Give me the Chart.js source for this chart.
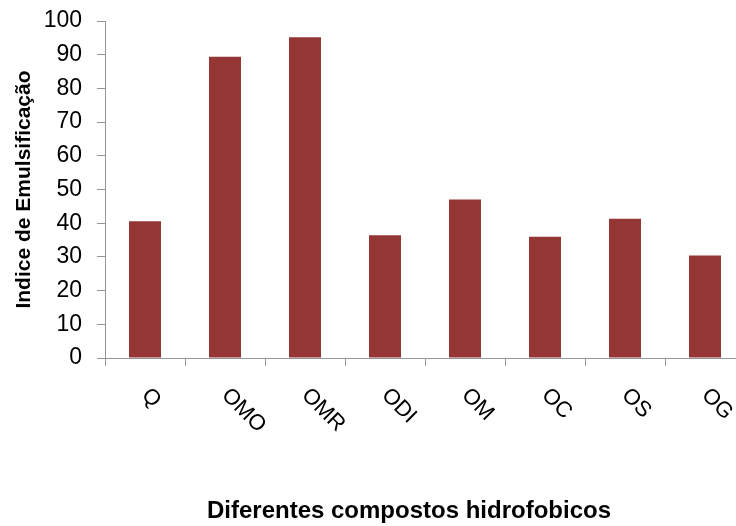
<!DOCTYPE html>
<html>
<head>
<meta charset="utf-8">
<script src="https://cdn.jsdelivr.net/npm/chart.js@4"></script>
<style>
  html, body { margin: 0; padding: 0; background: #fff; overflow: hidden; }
  #wrap { position: relative; width: 745px; height: 526px; }
</style>
</head>
<body>
<div id="wrap"><canvas id="c"></canvas></div>
<script>
// Emulsification index per hydrophobic compound
const categories = ['Q', 'OMO', 'OMR', 'ODI', 'OM', 'OC', 'OS', 'OG'];
const indexValues = [40.6, 89.4, 95.2, 36.4, 47.0, 36.0, 41.3, 30.4];
const yTicks = [0, 10, 20, 30, 40, 50, 60, 70, 80, 90, 100];
const xTitle = 'Diferentes compostos hidrofobicos';
const yTitle = 'Indice de Emulsificação';

const axisGray = '#969696';
const fontFamily = '"Liberation Sans", Arial, sans-serif';

// Category labels written diagonally (down to the right) below the axis,
// plus the horizontal axis title centred under the whole figure
const bottomTexts = {
  id: 'bottomTexts',
  afterDraw(chart) {
    const xs = chart.scales.x;
    const ctx = chart.ctx;
    ctx.save();
    ctx.fillStyle = '#000';
    ctx.font = '22px ' + fontFamily;
    ctx.textAlign = 'left';
    ctx.textBaseline = 'alphabetic';
    categories.forEach((lab, i) => {
      const x = xs.getPixelForTick(i) + 7;
      const y = xs.top + 27;
      ctx.save();
      ctx.translate(x, y);
      ctx.rotate(Math.PI / 4);
      ctx.fillText(lab, 0, 16);
      ctx.restore();
    });
    ctx.font = 'bold 24px ' + fontFamily;
    ctx.textAlign = 'center';
    ctx.textBaseline = 'middle';
    ctx.fillText(xTitle, 409, 511);
    ctx.restore();
  }
};

new Chart(document.getElementById('c'), {
  type: 'bar',
  data: {
    labels: categories,
    datasets: [{
      data: indexValues,
      backgroundColor: '#943634',
      borderWidth: 0,
      barPercentage: 0.4,
      categoryPercentage: 1.0
    }]
  },
  options: {
    responsive: true,
    maintainAspectRatio: false,
    animation: false,
    layout: { padding: { top: 21, right: 0, bottom: 0, left: 0 } },
    plugins: { legend: { display: false }, tooltip: { enabled: false } },
    scales: {
      x: {
        grid: { display: true, drawOnChartArea: false, drawTicks: true, tickLength: 8, color: axisGray, offset: true },
        border: { display: true, color: axisGray, width: 1 },
        ticks: { display: false },
        title: { display: false },
        afterFit(scale) { scale.height = 168; }
      },
      y: {
        min: 0,
        max: 100,
        afterBuildTicks(scale) { scale.ticks = yTicks.map(v => ({ value: v })); },
        grid: { display: true, drawOnChartArea: false, drawTicks: true, tickLength: 8, color: axisGray },
        border: { display: true, color: axisGray, width: 1 },
        ticks: {
          color: '#000',
          padding: 15,
          font: { family: fontFamily, size: 23 }
        },
        title: {
          display: true,
          text: yTitle,
          color: '#000',
          font: { family: fontFamily, size: 21, weight: 'bold' },
          padding: { top: 12, bottom: 0 }
        },
        afterFit(scale) {
          scale.width = 105;
          scale.paddingTop = 0;
          scale.paddingBottom = 0;
        }
      }
    }
  },
  plugins: [bottomTexts]
});
</script>
</body>
</html>
